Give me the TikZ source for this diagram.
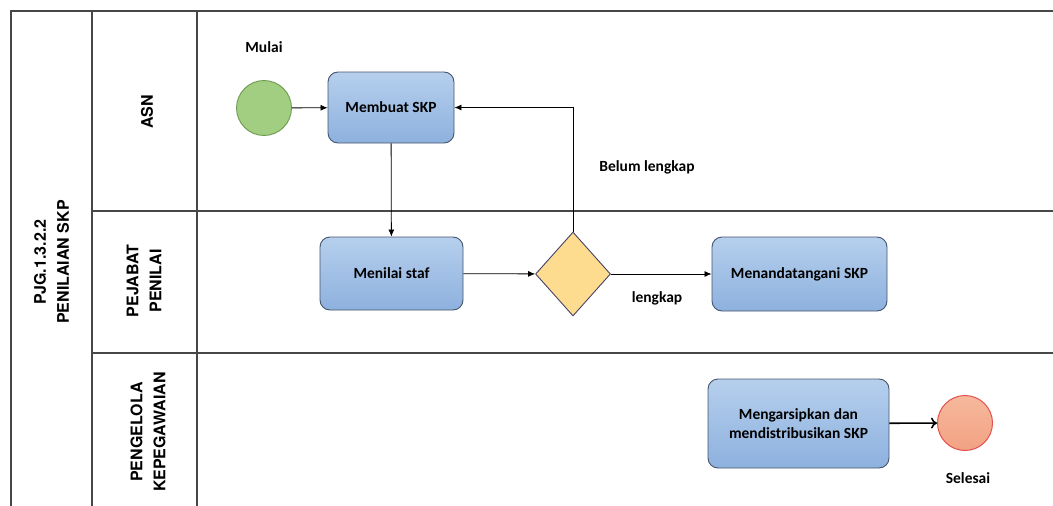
\documentclass[tikz,border=0pt]{standalone}
\usepackage{fontspec}
\setmainfont{Carlito}
\setsansfont{TeX Gyre Heros}
\usetikzlibrary{shapes.geometric,arrows.meta}
\definecolor{taskTop}{HTML}{B6CFED}
\definecolor{taskBot}{HTML}{8DB1DE}
\definecolor{taskLine}{HTML}{46546C}
\definecolor{startFill}{HTML}{A1CE80}
\definecolor{startLine}{HTML}{6E9B52}
\definecolor{endTop}{HTML}{F6B89C}
\definecolor{endBot}{HTML}{F2A283}
\definecolor{endLine}{HTML}{E4504F}
\definecolor{gateFill}{HTML}{FDDC8F}
\definecolor{gateLine}{HTML}{45426A}
\begin{document}
\begin{tikzpicture}[x=1pt,y=-1pt,
  frame/.style={draw=black!72,line width=1.3pt},
  lanelabel/.style={rotate=90,font=\sffamily\bfseries\fontsize{16}{23}\selectfont,align=center},
  task/.style={draw=taskLine,line width=0.9pt,rounded corners=10pt,
    top color=taskTop,bottom color=taskBot,
    font=\bfseries\fontsize{15.5}{19}\selectfont,align=center,inner sep=0pt},
  gate/.style={diamond,draw=gateLine,line width=0.9pt,fill=gateFill,
    minimum width=75pt,minimum height=84pt,inner sep=0pt,aspect=0.9},
  startev/.style={circle,draw=startLine,line width=0.9pt,fill=startFill,
    minimum size=55pt,inner sep=0pt},
  endev/.style={circle,draw=endLine,line width=1pt,inner sep=0pt,minimum size=55pt,
    top color=endTop,bottom color=endBot},
  lbl/.style={font=\bfseries\fontsize{15.5}{19}\selectfont},
  flow/.style={draw=black,line width=0.8pt,-{Latex[length=7pt,width=6pt]}},
]
\useasboundingbox (0,0) rectangle (1053,506);

% pool and lanes
\draw[frame] (11,506) -- (11,11) -- (1053,11);
\draw[frame] (92,11) -- (92,506);
\draw[frame] (197,11) -- (197,506);
\draw[frame] (92,211) -- (1053,211);
\draw[frame] (92,353) -- (1053,353);

\node[lanelabel] (pool) at (51.5,262) {PJG.1.3.2.2\\PENILAIAN SKP};
\node[lanelabel] (laneA) at (147,112) {ASN};
\node[lanelabel] (laneB) at (144,281) {PEJABAT\\PENILAI};
\node[lanelabel] (laneC) at (148,432) {PENGELOLA\\KEPEGAWAIAN};

% flow elements
\node[startev] (start) at (264,108) {};
\node[lbl] (mulai) at (264,47) {Mulai};
\node[task,minimum width=126pt,minimum height=71pt] (buat) at (391,107.5) {Membuat SKP};
\node[task,minimum width=143pt,minimum height=73pt] (nilai) at (391.5,273.5) {Menilai staf};
\node[gate] (cek) at (573,274) {};
\node[task,minimum width=175pt,minimum height=74pt] (ttd) at (799.5,274) {Menandatangani SKP};
\node[task,minimum width=181pt,minimum height=89pt] (arsip) at (798.5,423.5) {Mengarsipkan dan\\mendistribusikan SKP};
\node[endev] (end) at (965,423) {};
\node[lbl] (selesai) at (968,478) {Selesai};
\node[lbl] (belum) at (647,167) {Belum lengkap};
\node[lbl] (lengkap) at (657,298) {lengkap};

% connectors
\draw[flow] (start) -- (buat);
\draw[flow] (buat) -- (nilai);
\draw[flow] (nilai) -- (cek);
\draw[flow] (cek) -- (ttd);
\draw[flow] (cek.north) |- (buat.east);
\draw[line width=1.6pt,-{To[length=6pt,width=11pt,line width=1.6pt]}] (arsip) -- (end);
\end{tikzpicture}
\end{document}
